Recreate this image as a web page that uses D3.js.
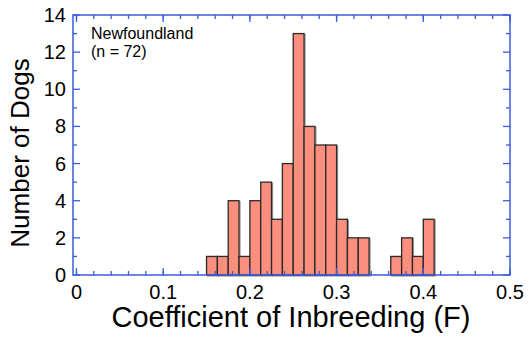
<!DOCTYPE html>
<html><head><meta charset="utf-8">
<script src="https://cdn.jsdelivr.net/npm/d3@7"></script>
<style>body{margin:0;background:#fff;} svg{display:block;font-family:"Liberation Sans",Arial,Helvetica,sans-serif;}</style>
</head><body>
<svg id="c" width="531" height="343"></svg>
<script>
const binStarts = [0.15,0.1625,0.175,0.1875,0.2,0.2125,0.225,0.2375,0.25,0.2625,0.275,0.2875,0.3,0.3125,0.325,0.3375,0.35,0.3625,0.375,0.3875,0.4];
const counts    = [1,1,4,1,4,5,3,6,13,8,7,7,3,2,2,0,0,1,2,1,3];
const binWidth = 0.0125;
const xTicks = [0,0.1,0.2,0.3,0.4,0.5];
const xTickLabels = ["0","0.1","0.2","0.3","0.4","0.5"];
const yTicks = [0,2,4,6,8,10,12,14];
const labelText = ["Newfoundland","(n = 72)"];

const svg = d3.select("#c");
const L=73, R=510, T=15, B=275;
const x = d3.scaleLinear().domain([-0.004,0.5]).range([L,R]);
const y = d3.scaleLinear().domain([0,14]).range([B,T]);
const blue="#3a5be0";

// bars
const bars = binStarts.map((s,i)=>({s,c:counts[i]})).filter(d=>d.c>0);
svg.append("g").selectAll("rect.sh").data(bars).join("rect")
  .attr("x",d=>x(d.s)+1).attr("y",d=>y(d.c)+1)
  .attr("width",d=>x(d.s+binWidth)-x(d.s)).attr("height",d=>y(0)-y(d.c))
  .attr("fill","none").attr("stroke","#999").attr("stroke-width",1.2);
svg.append("g").selectAll("rect.b").data(bars).join("rect")
  .attr("x",d=>x(d.s)).attr("y",d=>y(d.c))
  .attr("width",d=>x(d.s+binWidth)-x(d.s)).attr("height",d=>y(0)-y(d.c))
  .attr("fill","#fb8e7c").attr("stroke","#2a2a2a").attr("stroke-width",1.3);

// frame
svg.append("rect").attr("x",L).attr("y",T).attr("width",R-L).attr("height",B-T)
  .attr("fill","none").attr("stroke",blue).attr("stroke-width",1.5);

const xMinor = d3.range(0,0.5001,0.02);
const yMinor = d3.range(1,14,2);
const tk = svg.append("g").attr("stroke",blue).attr("stroke-width",1.3);
xTicks.forEach(v=>{
  tk.append("line").attr("x1",x(v)).attr("x2",x(v)).attr("y1",B).attr("y2",B-7);
  tk.append("line").attr("x1",x(v)).attr("x2",x(v)).attr("y1",T).attr("y2",T+7);
});
xMinor.forEach(v=>{
  tk.append("line").attr("x1",x(v)).attr("x2",x(v)).attr("y1",B).attr("y2",B-4);
  tk.append("line").attr("x1",x(v)).attr("x2",x(v)).attr("y1",T).attr("y2",T+4);
});
yTicks.forEach(v=>{
  tk.append("line").attr("x1",L).attr("x2",L+7).attr("y1",y(v)).attr("y2",y(v));
  tk.append("line").attr("x1",R).attr("x2",R-7).attr("y1",y(v)).attr("y2",y(v));
});
yMinor.forEach(v=>{
  tk.append("line").attr("x1",L).attr("x2",L+4).attr("y1",y(v)).attr("y2",y(v));
  tk.append("line").attr("x1",R).attr("x2",R-4).attr("y1",y(v)).attr("y2",y(v));
});

// tick labels
svg.append("g").selectAll("text").data(xTicks).join("text")
  .attr("x",d=>x(d)).attr("y",299).attr("text-anchor","middle")
  .attr("font-size",20).attr("fill","#000").text((d,i)=>xTickLabels[i]);
svg.append("g").selectAll("text").data(yTicks).join("text")
  .attr("x",66).attr("y",d=>y(d)+7).attr("text-anchor","end")
  .attr("font-size",20).attr("fill","#000").text(d=>d);

// axis titles
svg.append("text").attr("x",291).attr("y",327).attr("text-anchor","middle")
  .attr("font-size",29).attr("fill","#000").text("Coefficient of Inbreeding (F)");
svg.append("text").attr("transform","translate(29,153) rotate(-90)").attr("text-anchor","middle")
  .attr("font-size",26).attr("fill","#000").text("Number of Dogs");

// annotation
svg.append("g").selectAll("text").data(labelText).join("text")
  .attr("x",91).attr("y",(d,i)=>39+i*17.5).attr("font-size",16).attr("fill","#000").text(d=>d);
</script>
</body></html>
